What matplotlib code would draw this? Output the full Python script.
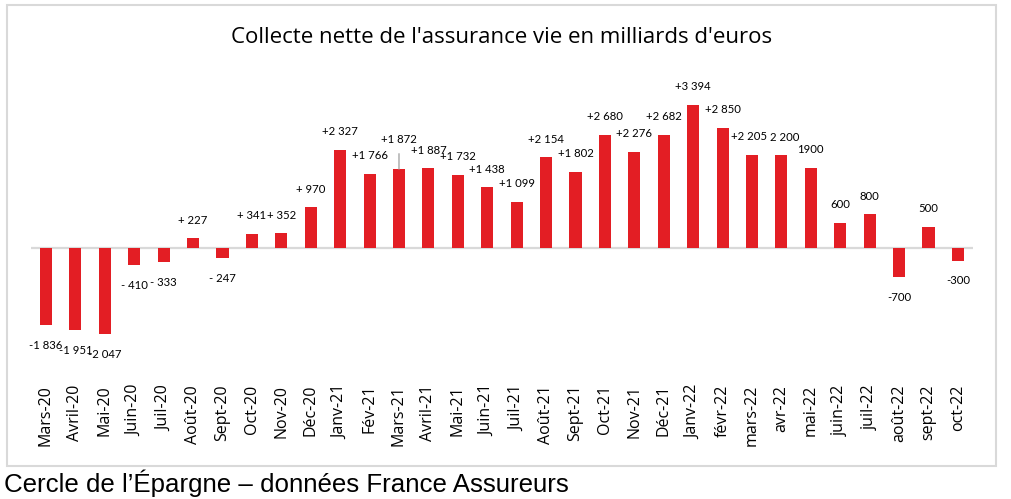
import matplotlib
matplotlib.use("Agg")
import matplotlib.pyplot as plt
from matplotlib.patches import Rectangle

# données France Assureurs, collecte nette mensuelle (millions d'euros)
months = ["Mars-20", "Avril-20", "Mai-20", "Juin-20", "Juil-20", "Août-20", "Sept-20",
          "Oct-20", "Nov-20", "Déc-20", "Janv-21", "Fév-21", "Mars-21", "Avril-21",
          "Mai-21", "Juin-21", "Juil-21", "Août-21", "Sept-21", "Oct-21", "Nov-21",
          "Déc-21", "Janv-22", "févr-22", "mars-22", "avr-22", "mai-22", "juin-22",
          "juil-22", "août-22", "sept-22", "oct-22"]
values = [-1836, -1951, -2047, -410, -333, 227, -247, 341, 352, 970, 2327, 1766, 1872,
          1887, 1732, 1438, 1099, 2154, 1802, 2680, 2276, 2682, 3394, 2850, 2205, 2200,
          1900, 600, 800, -700, 500, -300]
value_labels = ["-1 836", "-1 951", "-2 047", "- 410", "- 333", "+ 227", "- 247", "+ 341",
                "+ 352", "+ 970", "+2 327", "+1 766", "+1 872", "+1 887", "+1 732",
                "+1 438", "+1 099", "+2 154", "+1 802", "+2 680", "+2 276", "+2 682",
                "+3 394", "+2 850", "+2 205", "2 200", "1900", "600", "800", "-700",
                "500", "-300"]

RED = "#e31e24"
GRID = "#d9d9d9"
leader = {12: 21}          # label pushed higher, with a leader line
nudge_x = {24: -2, 25: 2}  # labels that touch each other

fig = plt.figure(figsize=(10.12, 4.99), dpi=100)
ax = fig.add_axes([0.0309, 0.2497, 0.9302, 0.5912])

x = list(range(len(values)))
ax.bar(x, values, width=0.41, color=RED, zorder=3)
ax.axhline(0, color=GRID, lw=1.6, zorder=2)

for i, (v, lab) in enumerate(zip(values, value_labels)):
    if i in leader:
        ax.annotate(lab, xy=(i, v), xytext=(0, leader[i]), textcoords="offset points",
                    ha="center", va="center", fontsize=8.2, family="Lato",
                    arrowprops=dict(arrowstyle="-", color="#a6a6a6", lw=1,
                                    shrinkA=4, shrinkB=0))
    else:
        dy = 13 if v >= 0 else -14.5
        ax.annotate(lab, xy=(i, v), xytext=(nudge_x.get(i, 0), dy), textcoords="offset points",
                    ha="center", va="center", fontsize=8.2, family="Lato")

ax.set_xlim(-0.5, len(values) - 0.5)
ax.set_ylim(-3000, 4000)
ax.set_xticks(x)
ax.set_xticklabels(months, rotation=90, fontsize=11.5, family="Open Sans")
ax.tick_params(axis="x", length=0, pad=7.5)
ax.set_yticks([])
for s in ax.spines.values():
    s.set_visible(False)
ax.patch.set_alpha(0)

fig.text(0.4956, 0.924, "Collecte nette de l'assurance vie en milliards d'euros",
         ha="center", va="center", fontsize=16, family="Open Sans")
fig.text(0.004, 0.032, "Cercle de l’Épargne – données France Assureurs",
         ha="left", va="center", fontsize=18.6, family="Liberation Sans")

fig.patches.append(Rectangle((0.0069, 0.0661), 0.9773, 0.9238, transform=fig.transFigure,
                             fill=False, edgecolor=GRID, lw=1.5))

fig.savefig("out.png", dpi=100)
